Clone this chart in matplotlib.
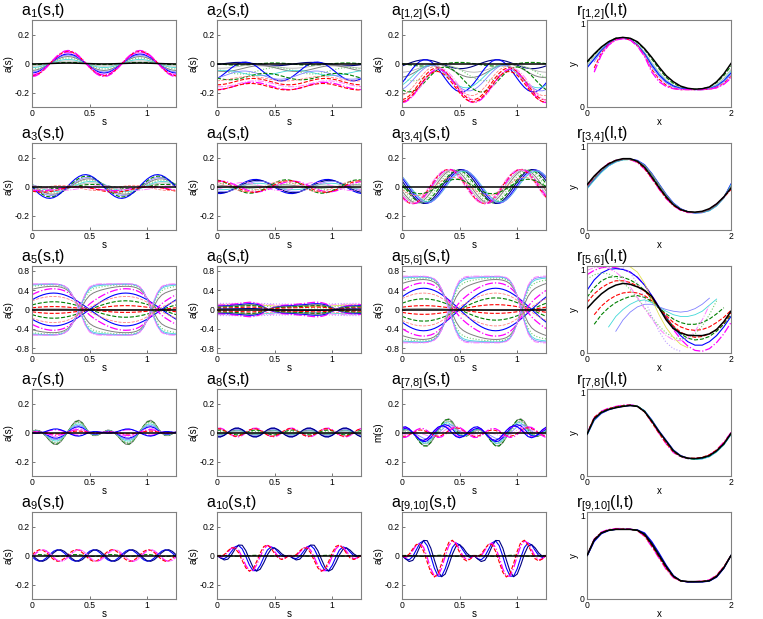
import numpy as np
import matplotlib
matplotlib.use("Agg")
import matplotlib.pyplot as plt

plt.rcParams['font.family'] = ['Liberation Sans', 'DejaVu Sans']
plt.rcParams['mathtext.fontset'] = 'custom'
plt.rcParams['mathtext.rm'] = 'Liberation Sans'
plt.rcParams['mathtext.it'] = 'Liberation Sans:italic'
plt.rcParams['mathtext.bf'] = 'Liberation Sans:bold'
plt.rcParams['axes.unicode_minus'] = False

nan = float('nan')

# ---------------- sample grids ----------------
S_GRID = np.linspace(0.0, 1.25, 41)   # arc length s
X_GRID = np.linspace(0.0, 2.0, 21)    # x for r panels

# ---------------- shape arrays (41 samples over s) ----------------
C1 = [1, .951, .809, .588, .309, 0, -.309, -.588, -.809, -.951,
      -1, -.951, -.809, -.588, -.309, 0, .309, .588, .809, .951,
      1, .951, .809, .588, .309, 0, -.309, -.588, -.809, -.951,
      -1, -.951, -.809, -.588, -.309, 0, .309, .588, .809, .951, 1]
S1 = [0, .309, .588, .809, .951, 1, .951, .809, .588, .309,
      0, -.309, -.588, -.809, -.951, -1, -.951, -.809, -.588, -.309,
      0, .309, .588, .809, .951, 1, .951, .809, .588, .309,
      0, -.309, -.588, -.809, -.951, -1, -.951, -.809, -.588, -.309, 0]
C2 = [1, .809, .309, -.309, -.809, -1, -.809, -.309, .309, .809,
      1, .809, .309, -.309, -.809, -1, -.809, -.309, .309, .809,
      1, .809, .309, -.309, -.809, -1, -.809, -.309, .309, .809,
      1, .809, .309, -.309, -.809, -1, -.809, -.309, .309, .809, 1]
S2 = [0, .588, .951, .951, .588, 0, -.588, -.951, -.951, -.588,
      0, .588, .951, .951, .588, 0, -.588, -.951, -.951, -.588,
      0, .588, .951, .951, .588, 0, -.588, -.951, -.951, -.588,
      0, .588, .951, .951, .588, 0, -.588, -.951, -.951, -.588, 0]
W5 = [.588, .707, .809, .891, .951, .988, 1, .988, .951, .891,
      .809, .707, .588, .454, .309, .156, 0, -.156, -.309, -.454,
      -.588, -.707, -.809, -.891, -.951, -.988, -1, -.988, -.951, -.891,
      -.809, -.707, -.588, -.454, -.309, -.156, 0, .156, .309, .454, .588]
Q5 = [1, 1, 1, 1, 1, 1, 1, .99, .97, .92,
      .82, .62, .32, 0, -.35, -.68, -.88, -.96, -.99, -1,
      -1, -1, -1, -1, -1, -1, -1, -1, -.99, -.96,
      -.88, -.7, -.4, 0, .4, .72, .9, .97, .99, 1, 1]
F6 = [.55, .58, .62, .66, .71, .76, .82, .89, .95, 1.0,
      .98, .88, .68, .4, .1, -.15, -.35, -.48, -.55, -.6,
      -.64, -.68, -.72, -.77, -.82, -.88, -.94, -.99, -1, -.95,
      -.82, -.6, -.3, 0, .25, .42, .52, .58, .62, .65, .68]
F7 = [.05, .2, .15, -.05, -.35, -.7, -.95, -.98, -.75, -.35,
      .1, .55, .9, 1.0, .8, .35, -.05, -.25, -.25, -.1,
      .05, .2, .15, -.05, -.35, -.7, -.95, -.98, -.75, -.35,
      .1, .55, .9, 1.0, .8, .35, -.05, -.25, -.25, -.1, .05]
ENV = [0, .156, .309, .454, .588, .707, .809, .891, .951, .988,
       1, .988, .951, .891, .809, .707, .588, .454, .309, .156,
       0, .156, .309, .454, .588, .707, .809, .891, .951, .988,
       1, .988, .951, .891, .809, .707, .588, .454, .309, .156, 0]

BASES = {'C1': C1, 'S1': S1, 'C2': C2, 'S2': S2, 'W5': W5, 'Q5': Q5,
         'F6': F6, 'F7': F7, 'ENV': ENV,
         'EC2': np.multiply(ENV, C2), 'ES2': np.multiply(ENV, S2)}

# ---------------- line styles (colour, dash, width) ----------------
STY = {
    'k':   ('#000000', '-', 1.1),
    'g':   ('#008000', '--', 0.8),
    'gr':  ('#7f7f7f', '-', 0.7),
    'b':   ('#0000ff', '-', 0.8),
    'nv':  ('#000080', '-', 0.8),
    'm':   ('#ff00ff', '-.', 0.9),
    'r':   ('#ff0000', '--', 0.8),
    'lg':  ('#70d070', ':', 0.8),
    'c':   ('#40d8d8', '-', 0.6),
    'lgr': ('#b0b0b0', '-', 0.6),
    'lb':  ('#8080ff', '-', 0.6),
    'pk':  ('#ff80ff', '-.', 0.7),
    'lr':  ('#ff8080', '--', 0.6),
    'y':   ('#e0e050', '-', 0.6),
    'lv':  ('#c0a0ff', ':', 0.8),
}

# ---------------- a-panel curves: (style, offset, coefficients on the panel's shapes) ----------------
A1 = [('k', 0, -0.003), ('g', 0, -0.008), ('lgr', 0, -0.018), ('c', 0, -0.028),
      ('lg', 0, -0.038), ('gr', 0, -0.048), ('lb', 0, -0.058), ('b', 0, -0.066),
      ('pk', 0, -0.074), ('m', 0, -0.080), ('r', 0, -0.085), ('m', 0, -0.090)]
A2 = [('k', 0, 0, 0), ('g', -0.004, 0.0025, -0.0076), ('nv', -0.004, -0.004, 0.011),
      ('lgr', -0.02, -0.012, -0.004), ('gr', -0.035, -0.016, -0.012),
      ('lg', -0.05, 0.01, -0.02), ('c', -0.065, 0.015, 0.01), ('b', -0.055, -0.05, 0.042),
      ('lb', -0.08, -0.02, 0.02), ('g', -0.09, -0.01, -0.02), ('lr', -0.105, -0.015, 0.005),
      ('r', -0.125, -0.022, 0.0), ('pk', -0.14, -0.02, -0.005), ('m', -0.155, -0.025, 0.0),
      ('r', -0.16, -0.022, 0.004)]
A12 = [('k', 0, 0, 0), ('nv', -0.005, -0.012, 0.028), ('g', -0.005, 0.004, -0.012),
       ('lgr', -0.03, -0.03, 0.0), ('gr', -0.05, -0.045, 0.01), ('lg', -0.07, -0.03, -0.04),
       ('b', -0.085, -0.05, 0.10), ('c', -0.09, -0.06, 0.05), ('lb', -0.10, -0.08, 0.04),
       ('g', -0.11, -0.07, -0.05), ('lr', -0.12, -0.10, 0.02), ('r', -0.14, -0.11, 0.01),
       ('pk', -0.145, -0.11, -0.02), ('m', -0.155, -0.115, 0.0), ('r', -0.16, -0.105, 0.01)]
A3 = [('k', 0, 0, 0), ('g', 0, 0.008, -0.012), ('lgr', 0, 0.012, -0.022), ('c', 0, 0.015, -0.032),
      ('lg', 0, 0.015, -0.042), ('gr', 0, 0.012, -0.052), ('lb', 0, 0.008, -0.062),
      ('g', 0, 0.004, -0.072), ('b', 0, -0.004, -0.082), ('m', -0.015, -0.01, -0.01),
      ('r', -0.02, -0.012, -0.015), ('pk', -0.01, 0.015, -0.005), ('lr', -0.01, -0.015, 0.01)]
A4 = [('k', 0, 0, 0), ('b', 0, -0.048, -0.01), ('nv', 0, -0.04, -0.015), ('lb', 0, -0.03, -0.02),
      ('c', 0, -0.02, -0.01), ('lgr', 0, -0.01, 0.005), ('gr', 0, 0.01, -0.005),
      ('lg', 0, 0.02, 0.01), ('g', 0, 0.045, -0.011), ('m', 0, 0.035, 0.012),
      ('r', 0, 0.04, 0.0), ('pk', 0, -0.02, 0.02), ('lr', 0, 0.03, -0.02)]
A34 = [('k', 0, 0, 0), ('b', 0, 0.06, -0.10), ('nv', 0, 0.04, -0.11), ('g', 0, 0.02, -0.11),
       ('lg', 0, -0.005, -0.115), ('gr', 0, -0.03, -0.11), ('lgr', 0, -0.05, -0.10),
       ('m', 0, -0.065, -0.10), ('r', 0, -0.075, -0.09), ('pk', 0, -0.08, -0.085),
       ('c', 0, 0.07, -0.08), ('lb', 0, 0.07, -0.09), ('lr', 0, -0.02, -0.06), ('g', 0, 0.0, -0.05)]
A5 = [('k', 0, 0, 0), ('gr', 0, 0.01, 0), ('r', 0, 0.06, 0), ('r', 0, -0.08, 0),
      ('g', 0, 0.16, 0), ('g', 0, -0.18, 0), ('b', 0, 0.34, 0), ('b', 0, -0.34, 0),
      ('m', 0, 0.30, 0.13), ('m', 0, -0.30, -0.13), ('gr', 0, 0.15, 0.33), ('gr', 0, -0.15, -0.33),
      ('lg', 0, 0.08, 0.43), ('lg', 0, -0.08, -0.43), ('c', 0, 0.04, 0.48), ('c', 0, -0.04, -0.48),
      ('lb', 0, 0.02, 0.51), ('lb', 0, -0.02, -0.51), ('pk', 0, 0, 0.53), ('pk', 0, 0, -0.53),
      ('lr', 0, 0.22, 0.05), ('lr', 0, -0.22, -0.05)]
A6 = [('k', 0, 0), ('lv', 0.12, 0.01), ('lv', -0.12, -0.01), ('pk', 0.10, 0.015), ('pk', -0.10, -0.015),
      ('y', 0.08, 0.02), ('c', -0.08, -0.02), ('lg', 0.06, 0.03), ('lr', -0.06, -0.03),
      ('m', 0, 0.15), ('m', 0, -0.15), ('b', 0, 0.12), ('b', 0, -0.12), ('gr', 0, 0.10),
      ('gr', 0, -0.10), ('g', 0, 0.08), ('g', 0, -0.08), ('r', 0, 0.05), ('r', 0, -0.05),
      ('nv', 0, 0.02)]
A56 = [('k', 0, 0, 0), ('gr', 0, 0.015, 0), ('r', 0, 0.08, 0), ('r', 0, -0.10, 0),
       ('g', 0, 0.22, 0), ('g', 0, -0.24, 0), ('b', 0, 0.44, 0), ('b', 0, -0.44, 0),
       ('m', 0, 0.38, 0.17), ('m', 0, -0.38, -0.17), ('gr', 0, 0.20, 0.42), ('gr', 0, -0.20, -0.42),
       ('lg', 0, 0.10, 0.55), ('lg', 0, -0.10, -0.55), ('c', 0, 0.05, 0.62), ('c', 0, -0.05, -0.62),
       ('lb', 0, 0.02, 0.66), ('lb', 0, -0.02, -0.66), ('pk', 0, 0, 0.69), ('pk', 0, 0, -0.69),
       ('lr', 0, 0.28, 0.06), ('lr', 0, -0.28, -0.06)]
A7 = [('k', 0, 0), ('gr', 0, 0.085), ('g', 0, 0.08), ('lgr', 0, 0.075), ('lg', 0, 0.07),
      ('c', 0, 0.06), ('lb', 0, 0.05), ('b', 0, 0.04), ('pk', 0, 0.03), ('m', 0, 0.02),
      ('r', 0, 0.01), ('m', 0, -0.02), ('b', 0, -0.025)]
A8 = [('k', 0, 0, 0), ('m', 0, 0.028, 0.012), ('b', 0, -0.028, -0.012), ('pk', 0, 0.022, 0.01),
      ('lb', 0, -0.022, -0.008), ('g', 0, 0.015, 0.008), ('gr', 0, -0.015, -0.005),
      ('r', 0, 0.026, 0.006), ('c', 0, -0.01, -0.006), ('lg', 0, 0.008, 0.002),
      ('lgr', 0, -0.005, 0.0), ('nv', 0, -0.03, -0.01)]
A78 = [('k', 0, 0, 0, 0), ('gr', 0, 0.095, 0.0, 0.0), ('g', 0, 0.088, 0.008, 0.004),
       ('lgr', 0, 0.08, 0.0, 0.0), ('lg', 0, 0.075, -0.008, -0.003), ('c', 0, 0.065, 0.012, 0.005),
       ('lb', 0, 0.055, -0.012, -0.005), ('b', 0, 0.045, 0.02, 0.008), ('pk', 0, 0.035, -0.02, -0.008),
       ('m', 0, 0.025, 0.03, 0.012), ('r', 0, 0.015, -0.028, -0.01), ('m', 0, 0.01, -0.035, -0.012),
       ('b', 0, 0.02, 0.035, 0.012)]
A9 = [('k', 0, 0, 0), ('g', 0, 0.002, 0.006), ('m', 0, -0.01, 0.039), ('r', 0, 0.005, 0.04),
      ('b', 0, -0.008, -0.039), ('nv', 0, 0.006, -0.04), ('pk', 0, -0.015, 0.037)]
A10 = [('k', 0, 0, 0, 0), ('g', 0, -0.002, 0.003, 0.002), ('b', 0, -0.01, -0.094, -0.034),
       ('nv', 0, -0.01, -0.071, -0.071), ('m', 0, -0.01, -0.094, 0.034), ('r', 0, -0.01, -0.082, 0.057)]
A910 = [('k', 0, 0, 0, 0), ('g', 0, -0.003, 0.004, 0.003), ('b', 0, -0.01, -0.132, -0.048),
        ('nv', 0, -0.01, -0.099, -0.099), ('m', 0, -0.01, -0.132, 0.048), ('r', 0, -0.01, -0.115, 0.08)]

# ---------------- r-panel curves: y over X_GRID ----------------
R12 = [('k', [.52, .61, .69, .75, .79, .80, .79, .75, .67, .57, .46, .36, .29, .24, .215, .205, .21, .23, .29, .38, .50]),
       ('g', [.51, .60, .68, .75, .79, .80, .79, .74, .66, .55, .44, .34, .27, .23, .21, .205, .21, .23, .28, .36, .47]),
       ('lgr', [.48, .58, .67, .74, .78, .795, .78, .72, .63, .51, .40, .31, .25, .22, .205, .20, .205, .22, .26, .33, .43]),
       ('c', [.46, .56, .66, .73, .78, .79, .775, .715, .62, .495, .385, .30, .245, .215, .205, .20, .20, .215, .25, .31, .41]),
       ('b', [.45, .55, .65, .73, .78, .79, .775, .71, .61, .48, .37, .29, .24, .215, .205, .20, .20, .21, .24, .30, .39]),
       ('lb', [nan, .52, .64, .725, .775, .79, .772, .705, .60, .46, .35, .275, .23, .21, .20, .20, .20, .21, .235, .29, .37]),
       ('r', [nan, .45, .62, .72, .775, .79, .77, .705, .59, .43, .32, .25, .215, .20, .20, .20, .20, .205, .225, .27, .35]),
       ('pk', [nan, .42, .61, .715, .77, .787, .77, .70, .585, .415, .305, .24, .21, .20, .20, .20, .20, .205, .22, .265, .34]),
       ('m', [nan, .40, .60, .71, .77, .785, .77, .70, .58, .40, .29, .235, .21, .20, .20, .20, .20, .205, .22, .26, .33])]
R34 = [('k', [.52, .62, .70, .76, .80, .82, .82, .79, .72, .61, .49, .38, .29, .235, .21, .205, .215, .245, .30, .38, .48]),
       ('g', [.50, .60, .69, .75, .79, .81, .81, .785, .73, .63, .51, .39, .30, .24, .21, .20, .21, .235, .29, .38, .51]),
       ('b', [.48, .58, .67, .74, .785, .81, .815, .80, .75, .65, .53, .41, .31, .245, .21, .195, .20, .225, .28, .37, .53]),
       ('c', [.47, .57, .66, .735, .78, .805, .81, .795, .745, .645, .525, .405, .305, .24, .205, .195, .20, .22, .275, .365, .52]),
       ('m', [.50, .61, .70, .765, .80, .815, .81, .775, .70, .59, .47, .36, .28, .225, .20, .20, .21, .24, .30, .38, .47]),
       ('r', [.51, .615, .70, .765, .80, .815, .81, .78, .705, .595, .475, .365, .28, .23, .205, .20, .21, .24, .295, .375, .465]),
       ('gr', [.49, .59, .68, .75, .79, .81, .81, .79, .74, .64, .52, .40, .30, .24, .21, .20, .205, .23, .285, .375, .50])]
R56 = [('m', [.90, .95, .98, .99, .98, .96, .93, .87, .78, .66, .53, .40, .27, .16, .08, .03, .02, .05, .12, .22, .35]),
       ('b', [.72, .84, .92, .96, .97, .96, .93, .87, .78, .66, .53, .41, .30, .20, .13, .09, .09, .13, .20, .30, .42]),
       ('g', [.64, .75, .83, .87, .88, .87, .84, .79, .72, .62, .51, .40, .30, .22, .17, .15, .16, .19, .25, .33, .44]),
       ('r', [.58, .68, .75, .80, .83, .83, .81, .77, .71, .63, .52, .40, .31, .24, .20, .18, .19, .22, .27, .35, .46]),
       ('r', [nan, .44, .54, .61, .66, .69, .70, .69, .66, .60, .52, .43, .35, .30, .27, .26, .27, .30, .35, .41, .49]),
       ('g', [nan, .33, .44, .52, .58, .62, .65, .66, .64, .59, .52, .45, .39, .35, .33, .33, .35, .39, .45, .52, nan]),
       ('c', [nan, nan, nan, .30, .42, .50, .56, .60, .61, .58, .53, .48, .44, .42, .42, .44, .48, .55, .62, nan, nan]),
       ('lb', [nan, nan, nan, nan, .25, .38, .47, .53, .56, .56, .53, .50, .48, .47, .48, .51, .56, .63, nan, nan, nan]),
       ('lg', [.85, .90, .92, .91, .87, .81, .73, .63, .52, .41, .31, .23, .18, .16, .17, .22, .31, .44, .60, nan, nan]),
       ('pk', [.95, .98, .99, .97, .93, .86, .76, .64, .51, .39, .28, .20, .15, .14, .17, .25, .38, .55, nan, nan, nan]),
       ('y', [nan, nan, nan, nan, nan, nan, .99, .93, .80, .62, .44, .29, .18, .10, .06, nan, nan, nan, nan, nan, nan]),
       ('lv', [nan, nan, nan, nan, nan, .98, .92, .80, .62, .42, .25, .12, .05, .02, nan, nan, nan, nan, nan, nan, nan]),
       ('k', [.51, .60, .68, .74, .78, .80, .79, .76, .72, .65, .52, .38, .28, .23, .205, .20, .20, .22, .27, .36, .48])]
R78 = [('k', [.48, .66, .73, .765, .785, .80, .81, .80, .74, .63, .51, .40, .29, .23, .205, .20, .21, .235, .29, .37, .49]),
       ('m', [.49, .67, .745, .78, .80, .815, .82, .805, .74, .62, .49, .37, .27, .22, .20, .20, .21, .24, .30, .39, .50]),
       ('b', [.47, .64, .72, .76, .785, .80, .81, .80, .75, .645, .52, .41, .30, .235, .205, .195, .20, .225, .28, .36, .48]),
       ('c', [.47, .645, .725, .765, .79, .805, .815, .805, .75, .64, .515, .40, .295, .23, .20, .19, .195, .22, .275, .355, .475]),
       ('r', [.49, .675, .74, .775, .795, .81, .815, .80, .735, .615, .49, .375, .275, .225, .205, .205, .215, .245, .30, .38, .495]),
       ('g', [.48, .655, .735, .77, .79, .805, .815, .805, .745, .635, .505, .395, .285, .225, .20, .195, .205, .23, .285, .365, .485])]
R910 = [('k', [.50, .68, .76, .79, .80, .80, .80, .79, .74, .63, .50, .37, .26, .21, .20, .20, .20, .21, .26, .36, .50]),
        ('b', [.49, .66, .75, .785, .80, .80, .80, .795, .76, .66, .53, .39, .27, .21, .195, .195, .195, .205, .25, .35, .50]),
        ('m', [.50, .69, .77, .80, .81, .81, .805, .785, .72, .60, .47, .34, .245, .205, .20, .20, .205, .22, .275, .37, .50]),
        ('r', [.50, .685, .765, .795, .805, .805, .80, .785, .725, .61, .48, .35, .25, .205, .20, .20, .205, .215, .27, .37, .50]),
        ('nv', [.49, .67, .755, .79, .80, .80, .80, .79, .75, .645, .515, .38, .265, .21, .195, .195, .20, .21, .255, .355, .50]),
        ('g', [.50, .68, .76, .79, .80, .80, .80, .79, .74, .63, .50, .37, .26, .21, .20, .20, .20, .21, .26, .36, .50])]

# ---------------- panel table ----------------
SMALL = ((-0.3, 0.3), [-0.2, 0, 0.2])
LARGE = ((-0.9, 0.9), [-0.8, -0.4, 0, 0.4, 0.8])
ROWS = [
    [('a$_1$(s,t)', 'a(s)', SMALL, ['C1'], A1),
     ('a$_2$(s,t)', 'a(s)', SMALL, ['C1', 'S1'], A2),
     ('a$_{[1{,}2]}$(s,t)', 'a(s)', SMALL, ['C1', 'S1'], A12),
     ('r$_{[1{,}2]}$(l,t)', R12)],
    [('a$_3$(s,t)', 'a(s)', SMALL, ['C1', 'S1'], A3),
     ('a$_4$(s,t)', 'a(s)', SMALL, ['C1', 'S1'], A4),
     ('a$_{[3{,}4]}$(s,t)', 'a(s)', SMALL, ['C1', 'S1'], A34),
     ('r$_{[3{,}4]}$(l,t)', R34)],
    [('a$_5$(s,t)', 'a(s)', LARGE, ['W5', 'Q5'], A5),
     ('a$_6$(s,t)', 'a(s)', LARGE, ['F6'], A6),
     ('a$_{[5{,}6]}$(s,t)', 'a(s)', LARGE, ['W5', 'Q5'], A56),
     ('r$_{[5{,}6]}$(l,t)', R56)],
    [('a$_7$(s,t)', 'a(s)', SMALL, ['F7'], A7),
     ('a$_8$(s,t)', 'a(s)', SMALL, ['C2', 'S2'], A8),
     ('a$_{[7{,}8]}$(s,t)', 'm(s)', SMALL, ['F7', 'C2', 'S2'], A78),
     ('r$_{[7{,}8]}$(l,t)', R78)],
    [('a$_9$(s,t)', 'a(s)', SMALL, ['C2', 'S2'], A9),
     ('a$_{10}$(s,t)', 'a(s)', SMALL, ['ENV', 'EC2', 'ES2'], A10),
     ('a$_{[9{,}10]}$(s,t)', 'a(s)', SMALL, ['ENV', 'EC2', 'ES2'], A910),
     ('r$_{[9{,}10]}$(l,t)', R910)],
]

W, H = 763, 619
fig = plt.figure(figsize=(W / 100, H / 100), dpi=100)
COL_LEFT = [32, 217, 402, 587]
ROW_TOP = [20, 143, 266, 389, 512]
AX_W, AX_H = 144, 87


def style_axes(ax):
    for sp in ax.spines.values():
        sp.set_color('#808080')
        sp.set_linewidth(0.8)
    ax.tick_params(direction='in', length=2.5, width=0.6, labelsize=6.2, pad=1.5,
                   color='#606060', labelcolor='black')


def draw_line(ax, x, y, key):
    col, ls, lw = STY[key]
    ax.plot(x, y, color=col, linestyle=ls, linewidth=lw, zorder=3 if key == 'k' else 2)


for r, row in enumerate(ROWS):
    for c, panel in enumerate(row):
        left = COL_LEFT[c] / W
        bottom = 1 - (ROW_TOP[r] + AX_H) / H
        ax = fig.add_axes([left, bottom, AX_W / W, AX_H / H])
        style_axes(ax)
        fig.text((COL_LEFT[c] - 11) / W, 1 - (ROW_TOP[r] - 5) / H, panel[0],
                 fontsize=11.5, ha='left', va='baseline')
        if c < 3:
            title, ylab, (ylim, yticks), bnames, curves = panel
            for cur in curves:
                key, off, coefs = cur[0], cur[1], cur[2:]
                y = off + sum(k * np.asarray(BASES[b], dtype=float) for k, b in zip(coefs, bnames))
                draw_line(ax, S_GRID, y, key)
            ax.set_xlim(0, 1.25)
            ax.set_ylim(*ylim)
            ax.set_yticks(yticks)
            ax.set_yticklabels([('%g' % v) for v in yticks])
            ax.set_xticks([0, 0.5, 1])
            ax.set_xticklabels(['0', '0.5', '1'])
            ax.set_xlabel('s', fontsize=7, labelpad=-1)
            ax.set_ylabel(ylab, fontsize=7, labelpad=1)
        else:
            title, curves = panel
            for key, ys in curves:
                draw_line(ax, X_GRID, ys, key)
            ax.set_xlim(0, 2)
            ax.set_ylim(0, 1)
            ax.set_xticks([0, 2])
            ax.set_xticklabels(['0', '2'])
            ax.set_yticks([0, 1])
            ylbls = ax.set_yticklabels(['0', '1'])
            ylbls[1].set_verticalalignment('top')
            ax.set_xlabel('x', fontsize=7, labelpad=-1)
            ax.set_ylabel('y', fontsize=7, labelpad=1)

fig.savefig('out.png', dpi=100)
